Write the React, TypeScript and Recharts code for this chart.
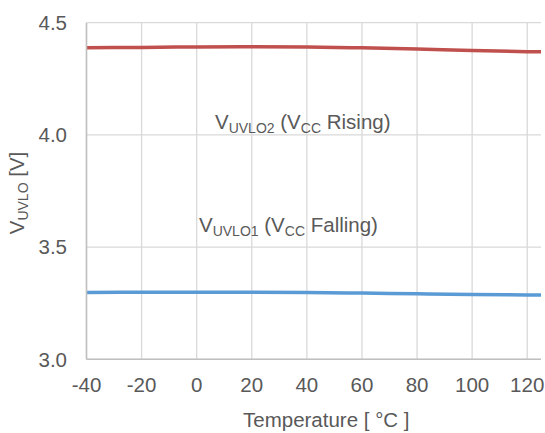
import React from 'react';
import { LineChart, Line, XAxis, YAxis, CartesianGrid, ReferenceDot, Label } from 'recharts';

const temps = [-40, -20, 0, 20, 40, 60, 80, 100, 120, 125];
const rising = [4.388, 4.39, 4.392, 4.393, 4.392, 4.388, 4.383, 4.376, 4.371, 4.37];
const falling = [3.298, 3.299, 3.299, 3.299, 3.298, 3.295, 3.292, 3.289, 3.287, 3.286];
const xTicks = [-40, -20, 0, 20, 40, 60, 80, 100, 120];
const yTicks = [3.0, 3.5, 4.0, 4.5];

const FONT = '"Liberation Sans", Arial, sans-serif';
const TXT = '#595959';
const FS = 20.5;

const data = temps.map((t, i) => ({ t, rising: rising[i], falling: falling[i] }));

// text with subscripts: parts alternate normal / subscript
function SubText({ x, y, parts, size = FS, sub = 14, rotate }: any) {
  const nodes: any[] = [];
  let shifted = false;
  parts.forEach((p: string, i: number) => {
    const isSub = i % 2 === 1;
    let dy = 0;
    if (isSub && !shifted) { dy = 4; shifted = true; }
    if (!isSub && shifted) { dy = -4; shifted = false; }
    nodes.push(
      <tspan key={i} dy={dy} fontSize={isSub ? sub : size}>{p}</tspan>
    );
  });
  return (
    <text
      x={x}
      y={y}
      fill={TXT}
      fontFamily={FONT}
      fontSize={size}
      textAnchor={rotate ? 'middle' : 'start'}
      transform={rotate ? `rotate(-90, ${x}, ${y})` : undefined}
      style={{ whiteSpace: 'pre' }}
    >
      {nodes}
    </text>
  );
}

export default function App() {
  return (
    <div style={{ position: 'absolute', top: 0, left: 0, width: 545, height: 433, background: '#fff' }}>
      <LineChart
        width={545}
        height={433}
        data={data}
        margin={{ top: 22.7, right: 4, bottom: 0, left: 0 }}
      >
        <CartesianGrid stroke="#d9d9d9" strokeWidth={1.3} horizontalValues={yTicks} verticalValues={xTicks} />
        <XAxis
          dataKey="t"
          type="number"
          domain={[-40, 125]}
          ticks={xTicks}
          allowDataOverflow
          height={73.7}
          stroke="#bfbfbf"
          strokeWidth={1.5}
          tickLine={false}
          tickSize={0}
          tickMargin={18}
          tick={{ fill: TXT, fontSize: FS, fontFamily: FONT }}
        >
          <Label
            content={(props: any) => {
              const vb = props.viewBox;
              return (
                <text
                  x={vb.x + 156.5}
                  y={vb.y + 67.5}
                  fill={TXT}
                  fontFamily={FONT}
                  fontSize={FS}
                  textAnchor="start"
                  style={{ whiteSpace: 'pre' }}
                >
                  Temperature [ °C ]
                </text>
              );
            }}
          />
        </XAxis>
        <YAxis
          type="number"
          domain={[3, 4.5]}
          ticks={yTicks}
          width={86.5}
          stroke="#bfbfbf"
          strokeWidth={1.5}
          tickLine={false}
          tickSize={0}
          tickMargin={19.5}
          tickFormatter={(v: number) => v.toFixed(1)}
          tick={{ fill: TXT, fontSize: FS, fontFamily: FONT }}
        >
          <Label
            content={() => <SubText x={24} y={193} parts={['V', 'UVLO', ' [V]']} rotate />}
          />
        </YAxis>
        <Line
          dataKey="rising"
          stroke="#c0504d"
          strokeWidth={3.5}
          dot={false}
          type="monotone"
          isAnimationActive={false}
        />
        <Line
          dataKey="falling"
          stroke="#5b9bd5"
          strokeWidth={3.5}
          dot={false}
          type="monotone"
          isAnimationActive={false}
        />
        <ReferenceDot
          x={6.65}
          y={4.025}
          r={0}
          fill="none"
          stroke="none"
          label={(p: any) => (
            <SubText x={p.viewBox.x} y={p.viewBox.y} parts={['V', 'UVLO2', ' (V', 'CC', ' Rising)']} />
          )}
        />
        <ReferenceDot
          x={0.84}
          y={3.569}
          r={0}
          fill="none"
          stroke="none"
          label={(p: any) => (
            <SubText x={p.viewBox.x} y={p.viewBox.y} parts={['V', 'UVLO1', ' (V', 'CC', ' Falling)']} />
          )}
        />
      </LineChart>
    </div>
  );
}
